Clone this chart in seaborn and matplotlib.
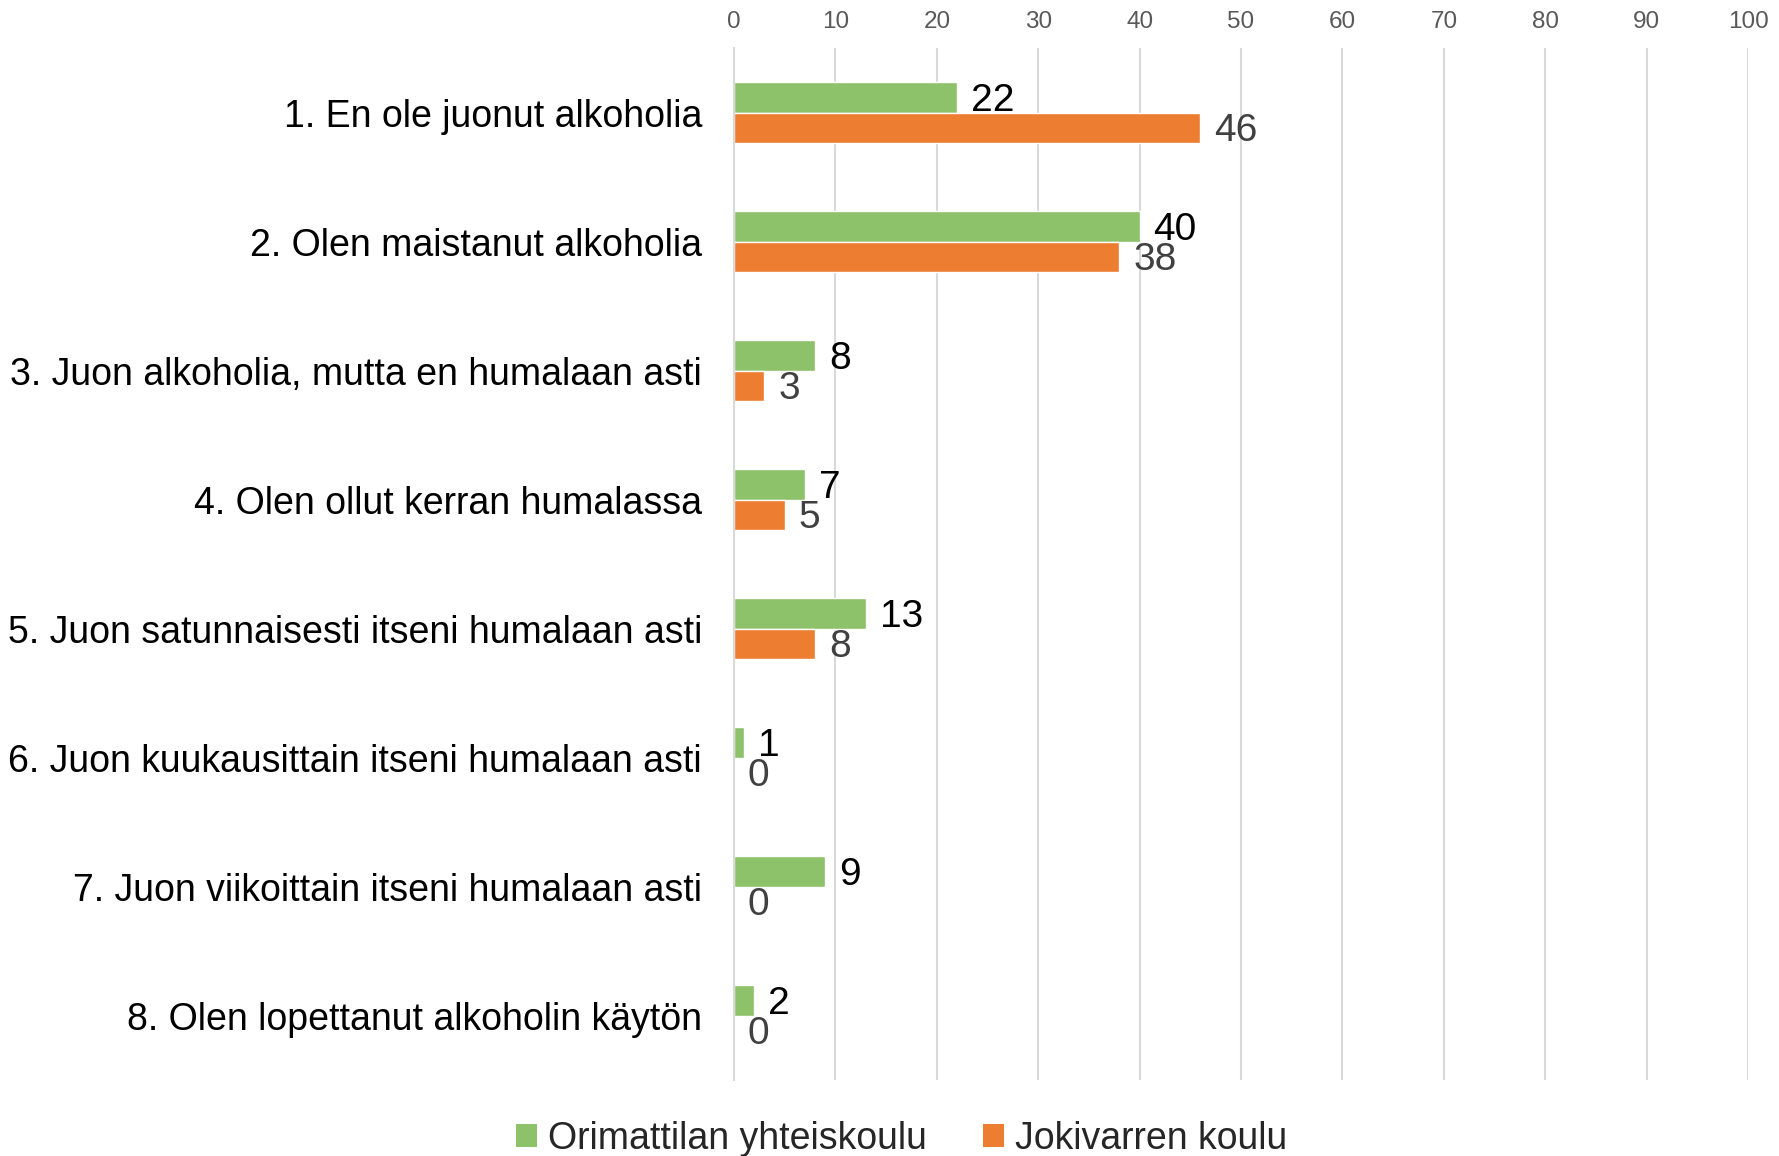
import matplotlib
matplotlib.use("Agg")
import matplotlib.pyplot as plt
import seaborn as sns
import pandas as pd
from matplotlib.patches import Patch

categories = [
    "1. En ole juonut alkoholia",
    "2. Olen maistanut alkoholia",
    "3. Juon alkoholia, mutta en humalaan asti",
    "4. Olen ollut kerran humalassa",
    "5. Juon satunnaisesti itseni humalaan asti",
    "6. Juon kuukausittain itseni humalaan asti",
    "7. Juon viikoittain itseni humalaan asti",
    "8. Olen lopettanut alkoholin käytön",
]
series_names = ["Orimattilan yhteiskoulu", "Jokivarren koulu"]
orimattila = [22, 40, 8, 7, 13, 1, 9, 2]
jokivarsi = [46, 38, 3, 5, 8, 0, 0, 0]
x_ticks = [0, 10, 20, 30, 40, 50, 60, 70, 80, 90, 100]

colors = ["#8DC26A", "#ED7D31"]
label_colors = ["#000000", "#404040"]

df = pd.DataFrame({
    "cat": categories * 2,
    "school": [series_names[0]] * len(categories) + [series_names[1]] * len(categories),
    "val": orimattila + jokivarsi,
})

sns.set_theme(style="white")
plt.rcParams["font.family"] = ["Liberation Sans", "DejaVu Sans"]

fig = plt.figure(figsize=(17.79, 11.56), dpi=100)
ax = fig.add_axes([0.4126, 0.0657, 0.570, 0.8927])

sns.barplot(data=df, y="cat", x="val", hue="school", order=categories,
            hue_order=series_names, palette=colors, orient="h",
            width=0.47, saturation=1, ax=ax, legend=False, errorbar=None)

ax.set_xlim(0, 100)
ax.set_ylim(7.5, -0.5)
ax.set_xlabel("")
ax.set_ylabel("")

ax.xaxis.tick_top()
ax.set_xticks(x_ticks)
ax.tick_params(axis="x", length=0, labelsize=17.5, labelcolor="#595959", pad=11)
ax.grid(axis="x", color="#D9D9D9", linewidth=1.5)
ax.set_axisbelow(True)

ax.set_yticks(range(len(categories)))
ax.set_yticklabels(categories)
ax.tick_params(axis="y", length=0, labelsize=27, labelcolor="#000000", pad=23)
ax.set_yticks([i - 0.5 for i in range(len(categories) + 1)], minor=True)
ax.tick_params(axis="y", which="minor", length=8, width=1.5, color="#D9D9D9")

for s in ["top", "right", "bottom"]:
    ax.spines[s].set_visible(False)
ax.spines["left"].set_color("#D9D9D9")
ax.spines["left"].set_linewidth(1.5)

for cont, lc in zip(ax.containers, label_colors):
    anns = ax.bar_label(cont, labels=[f"{int(v.get_width())}" for v in cont],
                        padding=10, fontsize=28, color=lc)
    for a in anns:
        x0, y0 = a.xyann
        a.xyann = (x0, y0 - 2.5)

handles = [Patch(facecolor=c, edgecolor="none") for c in colors]
fig.legend(handles, series_names, loc="lower center", bbox_to_anchor=(0.507, -0.03),
           ncol=2, frameon=False, fontsize=27, handlelength=0.55, handleheight=0.55,
           handletextpad=0.3, columnspacing=1.5)

fig.savefig("out.png", dpi=100)
